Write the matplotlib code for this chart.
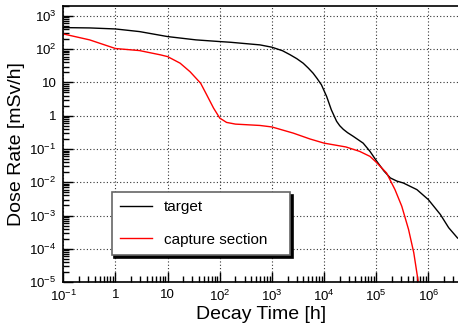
import numpy as np
import matplotlib
matplotlib.use("Agg")
import matplotlib.pyplot as plt
from matplotlib.ticker import LogLocator, FuncFormatter, NullFormatter

plt.rcParams['font.family'] = ['Liberation Sans', 'DejaVu Sans']
plt.rcParams['mathtext.fontset'] = 'custom'
plt.rcParams['mathtext.rm'] = 'Liberation Sans'
plt.rcParams['mathtext.default'] = 'regular'

# decay time [h] and dose rate [mSv/h]
time_target = [0.1, 0.32, 1, 2.9, 10, 35, 100, 160, 590, 1000, 1600, 2240, 3000,
               3980, 5000, 6170, 7400, 8910, 11200, 13800, 17400, 20000, 23400,
               28200, 36300, 56200, 75900, 1e5, 1.4e5, 1.86e5, 2.5e5, 3.31e5,
               6.03e5, 1e6, 1.7e6, 2.45e6, 3.63e6]
dose_target = [447, 437, 407, 339, 240, 191, 170, 162, 135, 115, 90, 68, 52,
               38, 27, 19, 13, 8.5, 3.8, 1.5, 0.68, 0.50, 0.39,
               0.31, 0.24, 0.15, 0.085, 0.045, 0.022, 0.0135, 0.0108, 0.0095,
               0.006, 0.003, 0.00107, 0.00043, 0.00021]

time_capture = [0.1, 0.32, 1, 2.9, 7.2, 10, 17.4, 27, 43, 56, 76, 100, 135, 200,
                590, 1000, 2570, 5370, 1e4, 26300, 47900, 75900, 1e5, 1.58e5,
                2.29e5, 3.09e5, 4.17e5, 5.25e5, 6.31e5, 6.6e5]
dose_capture = [288, 191, 105, 91, 68, 60, 38, 21, 9.5, 4.3, 1.7, 0.85, 0.63, 0.56,
                0.51, 0.46, 0.30, 0.20, 0.15, 0.115, 0.085, 0.06, 0.04, 0.019,
                0.006, 0.0019, 0.00038, 7.6e-5, 1.17e-5, 6e-6]

x_decades = [1e-1, 1, 10, 1e2, 1e3, 1e4, 1e5, 1e6]
y_decades = [1e-5, 1e-4, 1e-3, 1e-2, 1e-1, 1, 10, 1e2, 1e3]
labels = ["target", "capture section"]


def decade_label(v, pos):
    e = int(round(np.log10(v)))
    if e == 0:
        return "1"
    if e == 1:
        return "10"
    return r"$10^{%d}$" % e


fig = plt.figure(figsize=(4.58, 3.24), dpi=100)
ax = fig.add_axes([0.1382, 0.1296, 0.8618, 0.852])

ax.plot(time_target, dose_target, color="black", lw=1.0, label=labels[0])
ax.plot(time_capture, dose_capture, color="red", lw=1.0, label=labels[1])

ax.set_xscale("log")
ax.set_yscale("log")
ax.set_xlim(0.1, 3.7e6)
ax.set_ylim(1e-5, 2000)

ax.set_xticks(x_decades)
ax.set_yticks(y_decades)
ax.xaxis.set_minor_locator(LogLocator(base=10, subs=np.arange(2, 10), numticks=50))
ax.yaxis.set_minor_locator(LogLocator(base=10, subs=np.arange(2, 10), numticks=50))
ax.xaxis.set_major_formatter(FuncFormatter(decade_label))
ax.yaxis.set_major_formatter(FuncFormatter(decade_label))
ax.xaxis.set_minor_formatter(NullFormatter())
ax.yaxis.set_minor_formatter(NullFormatter())

ax.tick_params(which="both", direction="in", top=False, right=False,
               labelsize=9.5, width=1)
ax.tick_params(which="major", length=7, pad=5)
ax.tick_params(which="minor", length=4)

ax.grid(True, which="major", color="0.2", linestyle=(0, (1, 2)), lw=0.8)

for side in ["left", "bottom", "top"]:
    ax.spines[side].set_linewidth(1.2)
ax.spines["right"].set_visible(False)

ax.set_xlabel("Decay Time [h]", fontsize=14, labelpad=1)
ax.set_ylabel("Dose Rate [mSv/h]", fontsize=14, labelpad=3)

leg = ax.legend(loc="lower left", bbox_to_anchor=(0.1226, 0.0978, 0.4518, 0.2475),
                mode="expand", borderaxespad=0, fontsize=11, labelspacing=1.2,
                handlelength=2.1, handletextpad=0.75, borderpad=0.55,
                fancybox=False, shadow={"color": "black", "alpha": 1})
leg.get_frame().set_edgecolor("0.4")
leg.get_frame().set_linewidth(1.2)

fig.savefig("out.png", dpi=100)
